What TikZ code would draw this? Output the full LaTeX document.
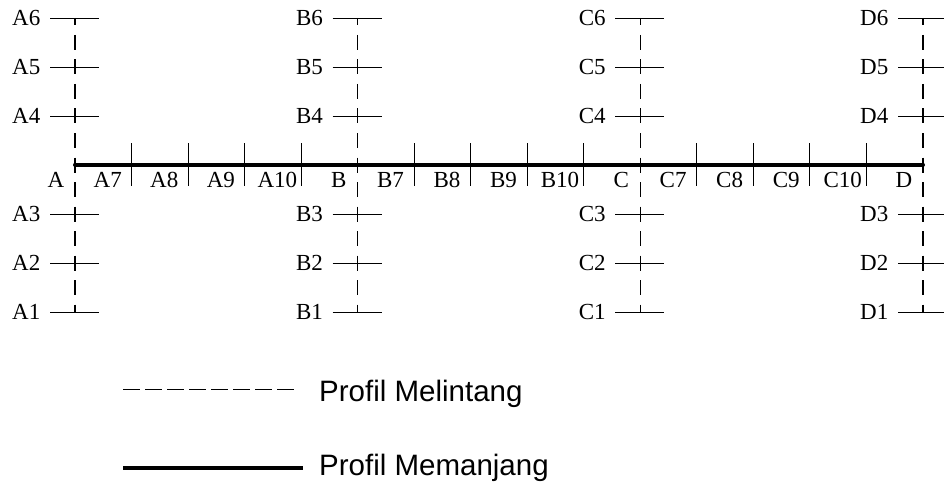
\documentclass[tikz,border=0pt]{standalone}
\usepackage{fontspec}
\setmainfont{Liberation Serif}
\newfontfamily\legendfont{Liberation Sans}
\begin{document}
\begin{tikzpicture}[x=1pt,y=-1pt,
  crossline/.style={line width=1.2pt, dash pattern=on 15pt off 9.5pt, dash phase=7.5pt},
  tickline/.style={line width=0.9pt},
  mainline/.style={line width=4pt, line cap=round},
  ptlabel/.style={font=\fontsize{23}{25}\selectfont, inner sep=0pt},
  legendtext/.style={font=\legendfont\fontsize{29.5}{31}\selectfont, inner sep=0pt, anchor=base west}]
\useasboundingbox (0,0) rectangle (944,484);

% main longitudinal profile
\coordinate (mainA) at (75,164.5);
\coordinate (mainD) at (923,164.5);

% cross-section stations with their tick marks and labels
\foreach \s/\x in {A/75,B/357.67,C/640.33,D/923} {
  \coordinate (\s top) at (\x,18);
  \coordinate (\s bot) at (\x,312);
  \draw[crossline] (\s top) -- (\s bot);
  \foreach \i/\y in {6/18,5/67,4/116,3/214,2/263,1/312} {
    \coordinate (\s\i L) at ({\x-25},\y);
    \coordinate (\s\i R) at ({\x+24},\y);
    \draw[tickline] (\s\i L) -- (\s\i R);
    \node[ptlabel, anchor=base east] (lbl\s\i) at ({\x-34.5},{\y+7.6}) {\s\i};
  }
  \node[ptlabel, anchor=base] (lbl\s) at ({\x-19},187) {\s};
}

\draw[mainline] (mainA) -- (mainD);

% intermediate stations along the main line
\foreach \s/\x in {A/75,B/357.67,C/640.33} {
  \foreach \k in {1,...,4} {
    \coordinate (\s tick\k T) at ({\x+\k*56.533},143);
    \coordinate (\s tick\k B) at ({\x+\k*56.533},186);
    \draw[tickline] (\s tick\k T) -- (\s tick\k B);
  }
  \foreach \k [evaluate=\k as \n using int(\k+6)] in {1,...,4} {
    \node[ptlabel, anchor=base] (lbl\s\n) at ({\x+(\k-0.5)*56.533+4.5},187) {\s\n};
  }
}

% legend
\coordinate (lgdA1) at (123,389.5);
\coordinate (lgdA2) at (294,389.5);
\draw[line width=1.4pt, dash pattern=on 16.5pt off 5.5pt] (lgdA1) -- (lgdA2);
\node[legendtext] (lgdtxtA) at (319,401) {Profil Melintang};

\coordinate (lgdB1) at (123,467.5);
\coordinate (lgdB2) at (303,467.5);
\draw[line width=4pt] (lgdB1) -- (lgdB2);
\node[legendtext] (lgdtxtB) at (319,475.5) {Profil Memanjang};
\end{tikzpicture}
\end{document}
